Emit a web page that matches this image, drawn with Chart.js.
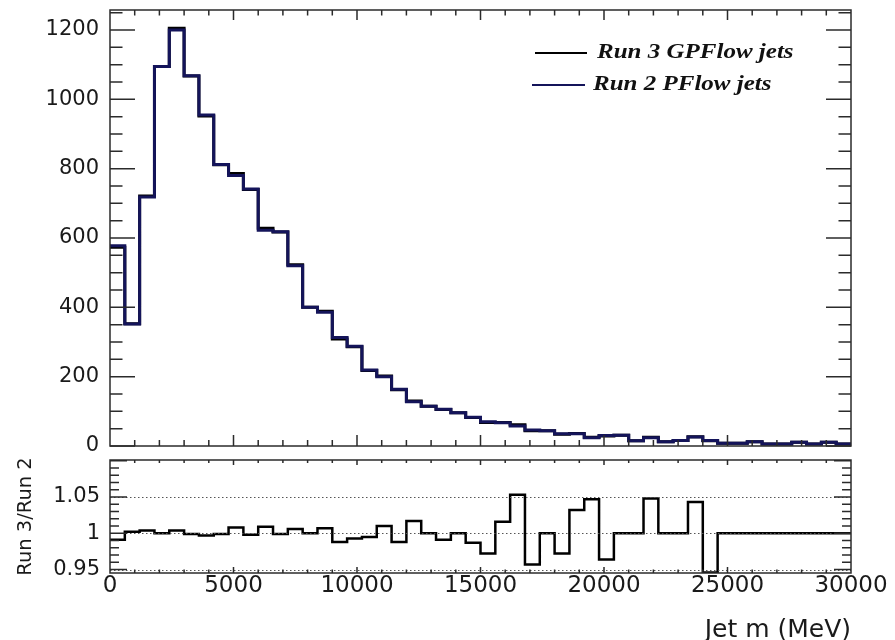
<!DOCTYPE html>
<html><head><meta charset="utf-8">
<script src="https://cdn.jsdelivr.net/npm/chart.js@4.4.1/dist/chart.umd.min.js"></script>
<style>
html,body{margin:0;padding:0;background:#fff;}
#wrap{position:relative;width:895px;height:640px;overflow:hidden;background:#fff;}
canvas{position:absolute;left:0;}
#c1{top:0;}
#c2{top:452px;}
</style></head><body>
<div id="wrap"><canvas id="c1" width="895" height="452"></canvas><canvas id="c2" width="895" height="188"></canvas></div>
<script>
// ---- data ----
const binEdges = [0,600,1200,1800,2400,3000,3600,4200,4800,5400,6000,6600,7200,7800,8400,9000,9600,10200,10800,11400,12000,12600,13200,13800,14400,15000,15600,16200,16800,17400,18000,18600,19200,19800,20400,21000,21600,22200,22800,23400,24000,24600,25200,25800,26400,27000,27600,28200,28800,29400,30000];
const run2Counts = [578,352,718,1095,1200,1068,955,812,780,741,622,618,520,400,386,313,288,219,200,164,128,115,106,96,83,70,67,58,46,44,35,35,24,30,31,15,24,12,16,26,16,8,8,12,6,6,11,6,11,6];
const run3Counts = [573,353,721,1095,1205,1067,952,811,786,740,628,617,523,400,389,309,286,218,202,162,130,115,105,96,82,68,68,61,44,44,34,36,25,29,31,15,25,12,16,27,15,8,8,12,6,6,11,6,11,6];
const ratioValues = [0.991,1.002,1.004,1.000,1.004,0.999,0.997,0.999,1.008,0.998,1.009,0.999,1.006,1.000,1.007,0.988,0.993,0.995,1.010,0.988,1.017,1.000,0.991,1.000,0.987,0.972,1.016,1.053,0.957,1.000,0.972,1.032,1.047,0.964,1.000,1.000,1.048,1.000,1.000,1.043,0.946,1.000,1.000,1.000,1.000,1.000,1.000,1.000,1.000,1.000];
const countTicks = [0,200,400,600,800,1000,1200];
const ratioTicks = [0.95,1,1.05];
const massTicks = [0,5000,10000,15000,20000,25000,30000];
const legendLabels = ['Run 3 GPFlow jets','Run 2 PFlow jets'];
const seriesColors = ['#000000','#14145a'];

// point i sits at the low edge of bin i (last point at the top edge of the last bin)
function toSteps(vals){
  return binEdges.map((e,i)=>({x:e, y: vals[Math.min(i, vals.length-1)]}));
}

function framePlugin(cfg){
  return {
    id:'rootFrame',
    afterDraw(chart){
      const ctx = chart.ctx, a = chart.chartArea, xs = chart.scales.x, ys = chart.scales.y;
      ctx.save();
      if (cfg.gridValues){
        ctx.strokeStyle = '#555';
        ctx.lineWidth = 1;
        ctx.setLineDash([1.5,2.5]);
        cfg.gridValues.forEach(v=>{
          const py = Math.round(ys.getPixelForValue(v))+0.5;
          ctx.beginPath(); ctx.moveTo(a.left,py); ctx.lineTo(a.right,py); ctx.stroke();
        });
        ctx.setLineDash([]);
      }
      ctx.strokeStyle = '#2b2b2b';
      ctx.lineWidth = 1.5;
      ctx.beginPath();
      const k0 = Math.ceil(ys.min/cfg.yStep - 1e-6), k1 = Math.floor(ys.max/cfg.yStep + 1e-6);
      for (let k=k0;k<=k1;k++){
        const py = ys.getPixelForValue(k*cfg.yStep);
        const len = (k % cfg.yMajorEvery === 0) ? cfg.yMajorLen : cfg.yMinorLen;
        ctx.moveTo(a.left,py); ctx.lineTo(a.left+len,py);
        ctx.moveTo(a.right,py); ctx.lineTo(a.right-len,py);
      }
      for (let k=1;k<30;k++){
        const px = xs.getPixelForValue(k*1000);
        const major = (k%5===0);
        const lb = major ? cfg.xMajorLen : cfg.xMinorLen;
        const lt = major ? cfg.xTopMajorLen : cfg.xTopMinorLen;
        ctx.moveTo(px,a.bottom); ctx.lineTo(px,a.bottom-lb);
        ctx.moveTo(px,a.top); ctx.lineTo(px,a.top+lt);
      }
      ctx.stroke();
      ctx.strokeRect(a.left,a.top,a.right-a.left,a.bottom-a.top);
      ctx.restore();
    }
  };
}

const legendPlugin = {
  id:'rootLegend',
  afterDraw(chart){
    const ctx = chart.ctx;
    const rows = [{y:53, x0:535, x1:587, tx:597},{y:85, x0:532, x1:585, tx:593}];
    ctx.save();
    rows.forEach((r,i)=>{
      ctx.strokeStyle = seriesColors[i];
      ctx.lineWidth = 2;
      ctx.beginPath(); ctx.moveTo(r.x0,r.y); ctx.lineTo(r.x1,r.y); ctx.stroke();
      ctx.save();
      ctx.translate(r.tx, r.y);
      ctx.scale(1.25,1);
      ctx.fillStyle = '#111';
      ctx.font = 'bold italic 20px "Liberation Serif"';
      ctx.textBaseline = 'middle';
      ctx.textAlign = 'left';
      ctx.fillText(legendLabels[i],0,0);
      ctx.restore();
    });
    ctx.restore();
  }
};

const labelFont = {family:'DejaVu Sans', size:21};

new Chart(document.getElementById('c1'), {
  type:'line',
  data:{datasets:[
    {label:legendLabels[1], data:toSteps(run2Counts), borderColor:seriesColors[1], borderWidth:3, stepped:'before', pointRadius:0, fill:false, order:0},
    {label:legendLabels[0], data:toSteps(run3Counts), borderColor:seriesColors[0], borderWidth:3, stepped:'before', pointRadius:0, fill:false, order:1}
  ]},
  options:{
    responsive:false, devicePixelRatio:1, animation:false, events:[],
    layout:{padding:{left:0,right:44,top:10,bottom:6}},
    plugins:{legend:{display:false}, tooltip:{enabled:false}},
    scales:{
      x:{type:'linear', min:0, max:30000, display:false},
      y:{type:'linear', min:0, max:1257.7,
         afterBuildTicks(s){ s.ticks = countTicks.map(v=>({value:v})); },
         afterFit(s){ s.width = 110; s.paddingTop = 0; s.paddingBottom = 0; },
         grid:{display:false, drawTicks:false}, border:{display:false},
         ticks:{padding:11, color:'#1a1a1a', font:labelFont, callback:v=>String(v)}}
    }
  },
  plugins:[framePlugin({yStep:50, yMajorEvery:4, yMajorLen:25, yMinorLen:12.5, xMajorLen:11, xMinorLen:6, xTopMajorLen:10, xTopMinorLen:5.5}), legendPlugin]
});

new Chart(document.getElementById('c2'), {
  type:'line',
  data:{datasets:[
    {label:'Run 3/Run 2', data:toSteps(ratioValues), borderColor:'#000', borderWidth:2.5, stepped:'before', pointRadius:0, fill:false}
  ]},
  options:{
    responsive:false, devicePixelRatio:1, animation:false, events:[],
    layout:{padding:{left:0,right:44,top:8,bottom:0}},
    plugins:{legend:{display:false}, tooltip:{enabled:false}},
    scales:{
      x:{type:'linear', min:0, max:30000,
         afterBuildTicks(s){ s.ticks = massTicks.map(v=>({value:v})); },
         afterFit(s){ s.height = 67; s.paddingLeft = 0; s.paddingRight = 0; },
         grid:{display:false, drawTicks:false}, border:{display:false},
         ticks:{padding:2, maxRotation:0, autoSkip:false, color:'#1a1a1a', font:{family:'DejaVu Sans', size:23, lineHeight:1}, callback:v=>String(v)},
         title:{display:true, text:'Jet m (MeV)', align:'end', color:'#1a1a1a', font:{family:'DejaVu Sans', size:25, lineHeight:0.8}, padding:{top:0,bottom:0}}},
      y:{type:'linear', min:0.9453, max:1.101,
         afterBuildTicks(s){ s.ticks = ratioTicks.map(v=>({value:v})); },
         afterFit(s){ s.width = 110; s.paddingTop = 0; s.paddingBottom = 0; },
         grid:{display:false, drawTicks:false}, border:{display:false},
         ticks:{padding:10, color:'#1a1a1a', font:labelFont, callback:v=>String(v)},
         title:{display:true, text:'Run 3/Run 2', color:'#1a1a1a', font:{family:'DejaVu Sans', size:19.5}, padding:{top:14.5,bottom:0}}}
    }
  },
  plugins:[framePlugin({gridValues:ratioTicks, yStep:0.01, yMajorEvery:5, yMajorLen:17, yMinorLen:9, xMajorLen:6, xMinorLen:3.5, xTopMajorLen:5, xTopMinorLen:3})]
});
</script>
</body></html>
